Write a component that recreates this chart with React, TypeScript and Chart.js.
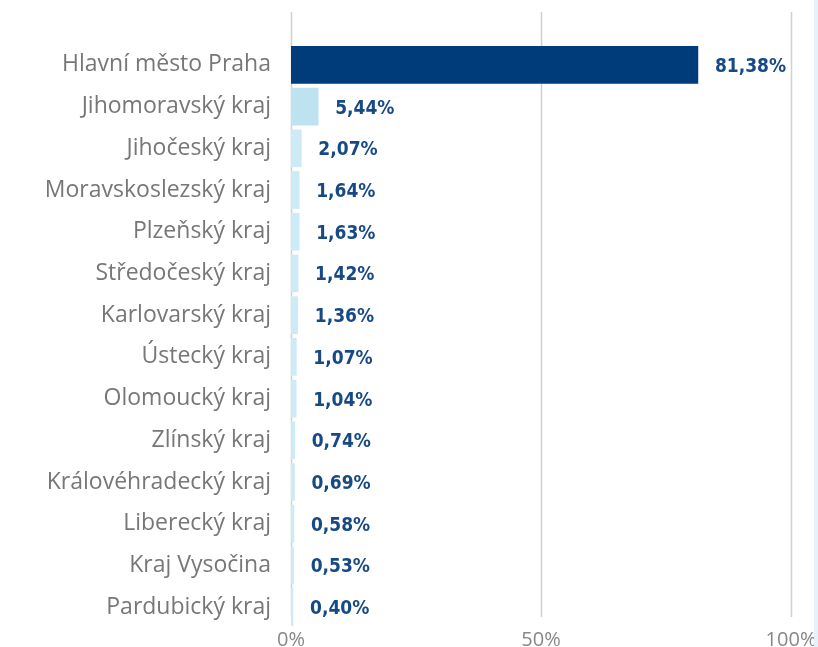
import React, { useEffect, useRef } from "react";
import { Chart, registerables } from "chart.js";

Chart.register(...registerables);

const regions = [
  "Hlavní město Praha",
  "Jihomoravský kraj",
  "Jihočeský kraj",
  "Moravskoslezský kraj",
  "Plzeňský kraj",
  "Středočeský kraj",
  "Karlovarský kraj",
  "Ústecký kraj",
  "Olomoucký kraj",
  "Zlínský kraj",
  "Královéhradecký kraj",
  "Liberecký kraj",
  "Kraj Vysočina",
  "Pardubický kraj",
];
const shares = [81.38, 5.44, 2.07, 1.64, 1.63, 1.42, 1.36, 1.07, 1.04, 0.74, 0.69, 0.58, 0.53, 0.4];
const xTicks = [0, 50, 100];

const barColors = shares.map((_, i) => (i === 0 ? "#003B7A" : i === 1 ? "#BDE3F1" : "#CDEBF7"));

const fmt = (v: number) => v.toFixed(2).replace(".", ",") + "%";

export default function App() {
  const ref = useRef<HTMLCanvasElement | null>(null);
  useEffect(() => {
    if (!ref.current) return;
    const gridPlugin = {
      id: "customGrid",
      beforeDatasetsDraw(chart: any) {
        const { ctx, scales } = chart;
        const x = scales.x;
        ctx.save();
        ctx.strokeStyle = "#D0D0D0";
        ctx.lineWidth = 1.5;
        xTicks.forEach((t) => {
          const px = Math.round(x.getPixelForValue(t)) + 0.5;
          ctx.beginPath();
          ctx.moveTo(px, 12);
          ctx.lineTo(px, 617);
          ctx.stroke();
        });
        ctx.restore();
      },
    };
    const labelPlugin = {
      id: "valueLabels",
      afterDatasetsDraw(chart: any) {
        const { ctx } = chart;
        const meta = chart.getDatasetMeta(0);
        ctx.save();
        ctx.font = "bold 19px 'DejaVu Sans Condensed', 'Roboto', sans-serif";
        ctx.fillStyle = "#174A85";
        ctx.textAlign = "left";
        ctx.textBaseline = "middle";
        meta.data.forEach((el: any, i: number) => {
          ctx.fillText(fmt(shares[i]), el.x + 17, el.y + 2);
        });
        ctx.restore();
      },
    };
    const chart = new Chart(ref.current, {
      type: "bar",
      data: {
        labels: regions,
        datasets: [
          {
            data: shares,
            backgroundColor: barColors,
            borderWidth: 0,
            barThickness: 37,
          },
        ],
      },
      options: {
        indexAxis: "y",
        animation: false,
        responsive: false,
        layout: { padding: { top: 44, right: 27, bottom: 0, left: 0 } },
        plugins: { legend: { display: false }, tooltip: { enabled: false } },
        scales: {
          x: {
            min: 0,
            max: 100,
            grid: { display: false, drawTicks: false },
            border: { display: false },
            afterBuildTicks(scale: any) {
              scale.ticks = xTicks.map((v) => ({ value: v }));
            },
            afterFit(scale: any) {
              scale.height = 19;
            },
            ticks: {
              padding: 0,
              color: "#888888",
              font: { family: "'Open Sans', sans-serif", size: 20 },
              callback: (v: any) => v + "%",
            },
          },
          y: {
            grid: { display: false, drawTicks: false },
            border: { display: false },
            afterFit(scale: any) {
              scale.width = 291;
              scale.paddingTop = 0;
              scale.paddingBottom = 0;
            },
            ticks: {
              padding: 20,
              color: "#777777",
              font: { family: "'Open Sans', sans-serif", size: 23 },
            },
          },
        },
      },
      plugins: [gridPlugin, labelPlugin],
    });
    return () => chart.destroy();
  }, []);
  return (
    <div style={{ position: "fixed", left: 0, top: 0, width: 818, height: 647, background: "#fff", overflow: "hidden" }}>
      <canvas ref={ref} width={818} height={647} style={{ display: "block" }} />
      <div style={{ position: "absolute", left: 814, top: 0, width: 4, height: 647, background: "#E6F1FA" }} />
    </div>
  );
}
